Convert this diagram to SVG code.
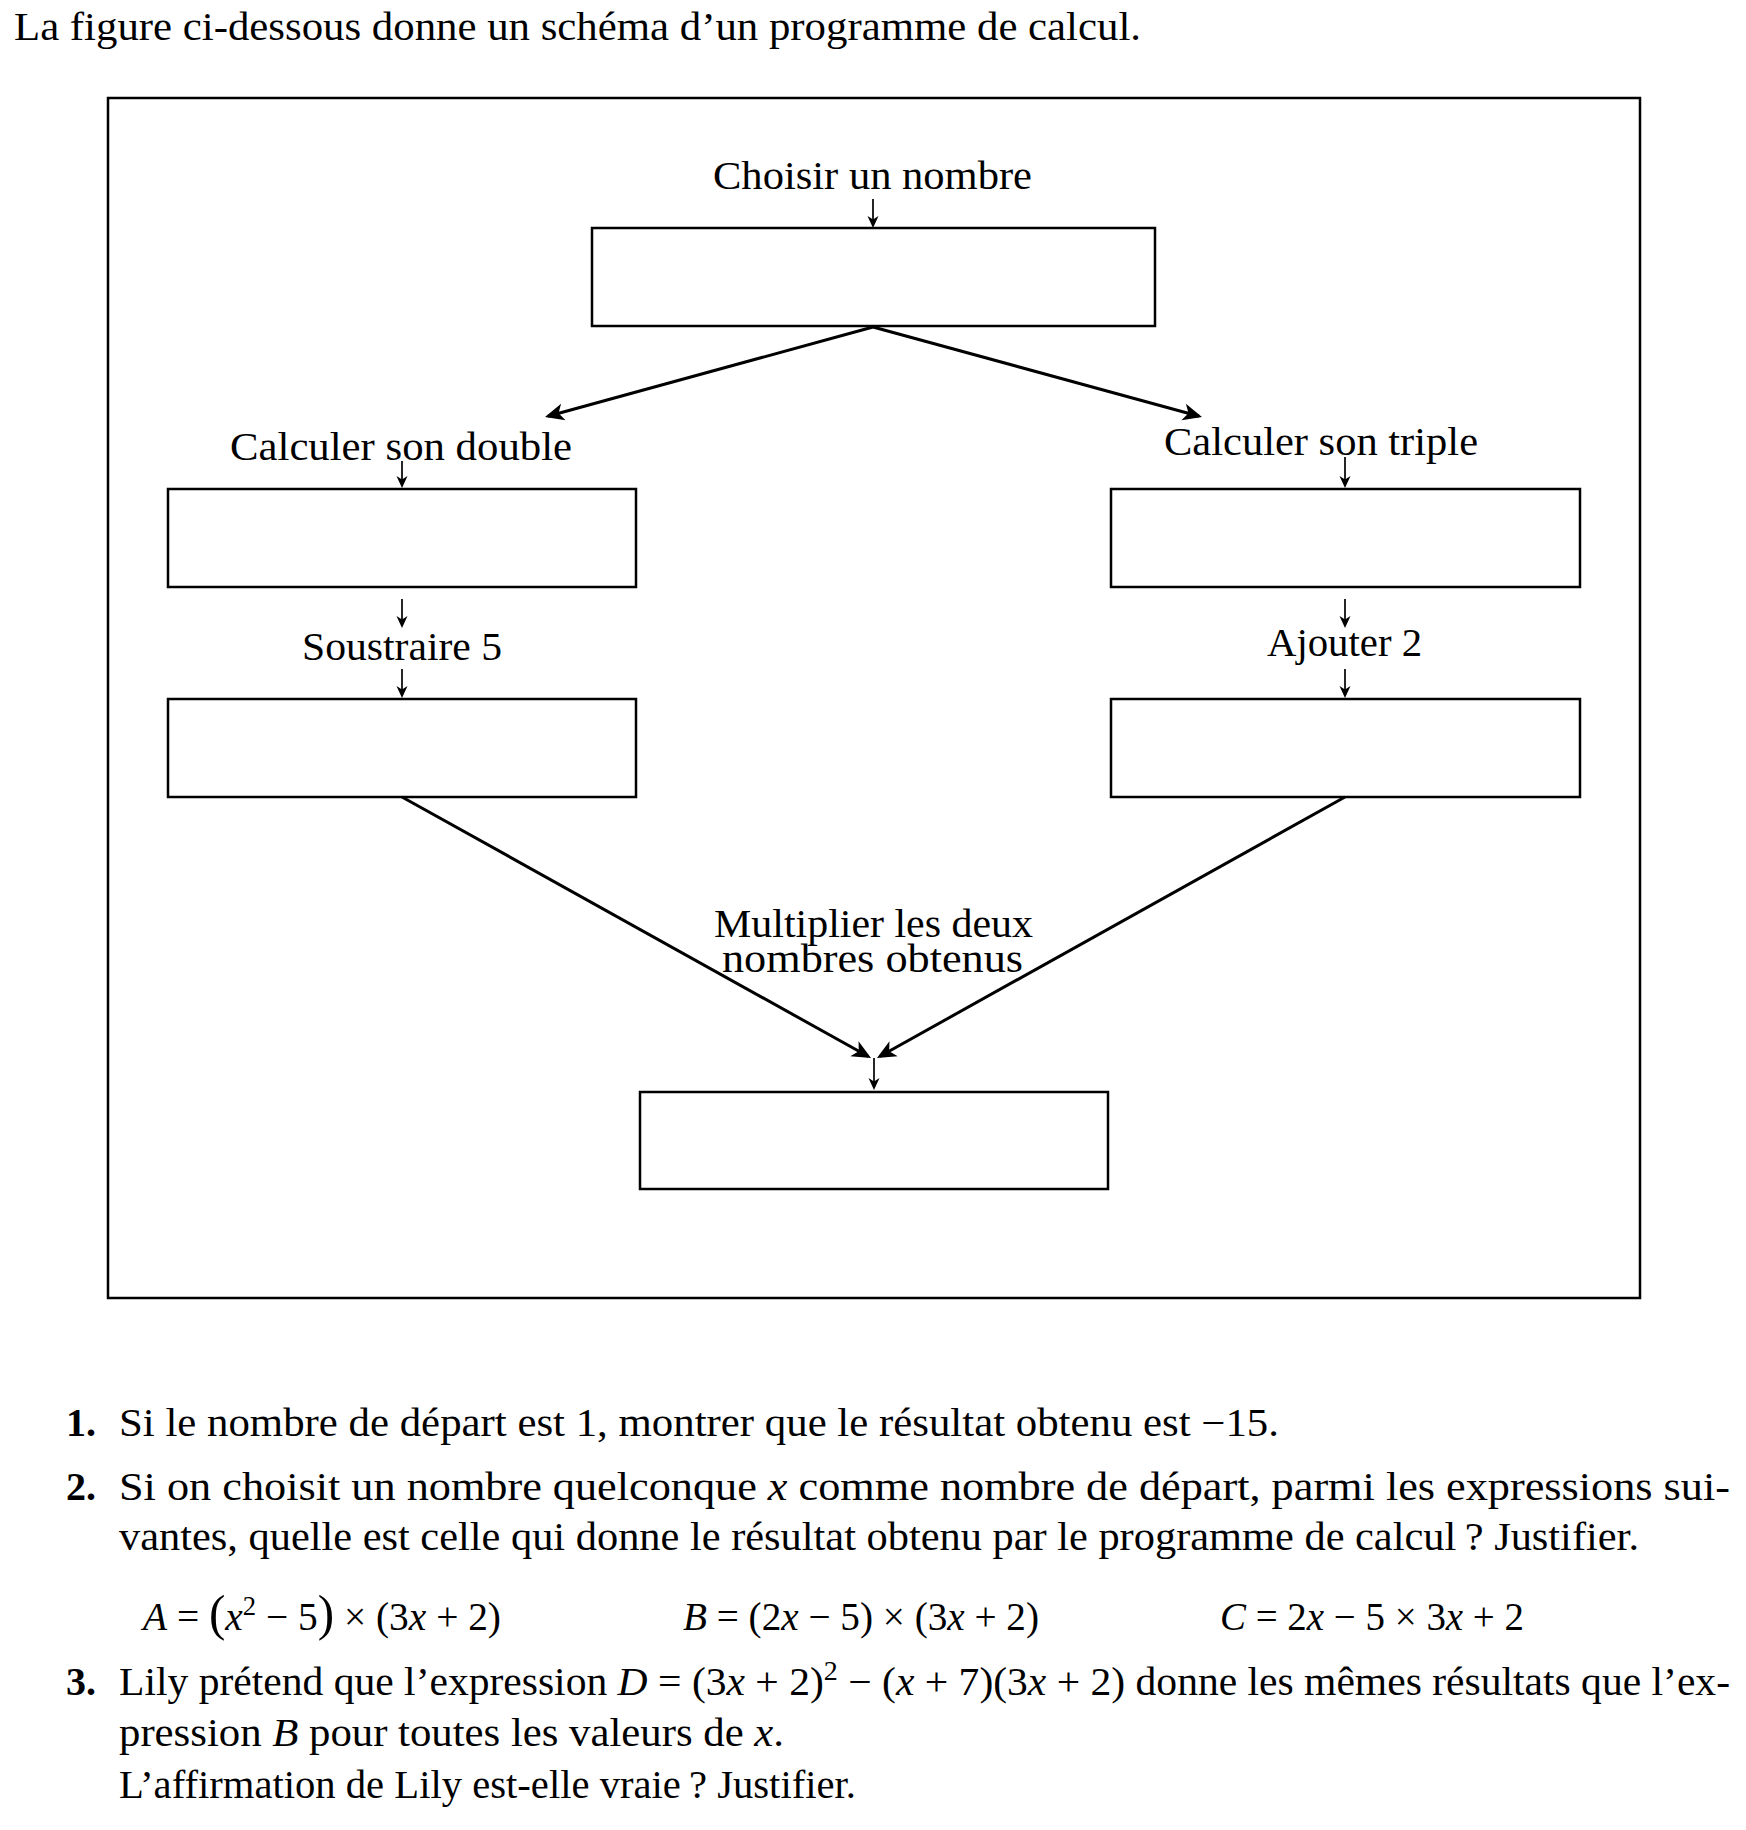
<svg xmlns="http://www.w3.org/2000/svg" width="1746" height="1830" viewBox="0 0 1746 1830">
<style>
text{font-family:"Liberation Serif","Times New Roman",serif;font-size:40px;fill:#000}
.b{font-weight:bold}
.i{font-style:italic}
.box{fill:#fff;stroke:#000;stroke-width:2.5}
.thin{fill:none;stroke:#000;stroke-width:1.7;marker-end:url(#ah)}
.thick{fill:none;stroke:#000;stroke-width:3;marker-end:url(#AH)}
</style>
<defs>
<marker id="ah" viewBox="-14 -7 16 14" refX="-2" refY="0" markerWidth="16" markerHeight="14" markerUnits="userSpaceOnUse" orient="auto"><path d="M0,0 L-12,-5.5 L-8.5,0 L-12,5.5 Z" fill="#000"/></marker>
<marker id="AH" viewBox="-22 -11 26 22" refX="-3" refY="0" markerWidth="26" markerHeight="22" markerUnits="userSpaceOnUse" orient="auto"><path d="M0,0 L-19,-8.5 L-14,0 L-19,8.5 Z" fill="#000"/></marker>
</defs>
<rect width="1746" height="1830" fill="#fff"/>
<text x="14" y="40" textLength="1127" lengthAdjust="spacingAndGlyphs">La figure ci-dessous donne un schéma d’un programme de calcul.</text>
<rect id="frame" x="108" y="98" width="1532" height="1200" fill="none" stroke="#000" stroke-width="2.5"/>
<g id="start"><rect class="box" x="592" y="228" width="563" height="98"/><text x="713" y="189" textLength="319" lengthAdjust="spacingAndGlyphs">Choisir un nombre</text></g>
<g id="double"><rect class="box" x="168" y="489" width="468" height="98"/><text x="230" y="460" textLength="342" lengthAdjust="spacingAndGlyphs">Calculer son double</text></g>
<g id="triple"><rect class="box" x="1111" y="489" width="469" height="98"/><text x="1164" y="455" textLength="314" lengthAdjust="spacingAndGlyphs">Calculer son triple</text></g>
<g id="sub5"><rect class="box" x="168" y="699" width="468" height="98"/><text x="302" y="660" textLength="200" lengthAdjust="spacingAndGlyphs">Soustraire 5</text></g>
<g id="add2"><rect class="box" x="1111" y="699" width="469" height="98"/><text x="1267" y="656" textLength="155" lengthAdjust="spacingAndGlyphs">Ajouter 2</text></g>
<g id="product"><rect class="box" x="640" y="1092" width="468" height="97"/><text x="714" y="937" textLength="319" lengthAdjust="spacingAndGlyphs">Multiplier les deux</text><text x="722" y="972" textLength="301" lengthAdjust="spacingAndGlyphs">nombres obtenus</text></g>
<g id="connectors">
<path class="thin" d="M873,199 V226"/>
<path class="thick" d="M873,327 L547.9,416.2"/>
<path class="thick" d="M873,327 L1199.1,416.2"/>
<path class="thin" d="M402,461 V486"/>
<path class="thin" d="M1345,457 V486"/>
<path class="thin" d="M402,599 V626"/>
<path class="thin" d="M402,669 V696"/>
<path class="thin" d="M1345,599 V626"/>
<path class="thin" d="M1345,669 V696"/>
<path class="thick" d="M402,797 L868.4,1056.5"/>
<path class="thick" d="M1345,797 L879.6,1056.5"/>
<path class="thin" d="M874,1058 V1088"/>
</g>
<g id="questions">
<text class="b" x="66" y="1436">1.</text>
<text x="119" y="1436" textLength="1160" lengthAdjust="spacingAndGlyphs">Si le nombre de départ est 1, montrer que le résultat obtenu est −15.</text>
<text class="b" x="66" y="1500">2.</text>
<text x="119" y="1500" textLength="1611" lengthAdjust="spacingAndGlyphs">Si on choisit un nombre quelconque <tspan class="i">x</tspan> comme nombre de départ, parmi les expressions sui-</text>
<text x="119" y="1550" textLength="1520" lengthAdjust="spacingAndGlyphs">vantes, quelle est celle qui donne le résultat obtenu par le programme de calcul&#x2009;? Justifier.</text>
<text x="143" y="1630" textLength="358" lengthAdjust="spacingAndGlyphs"><tspan class="i">A</tspan> = <tspan font-size="50">(</tspan><tspan class="i">x</tspan><tspan font-size="27" dy="-15">2</tspan><tspan dy="15"> − 5</tspan><tspan font-size="50">)</tspan> × (3<tspan class="i">x</tspan> + 2)</text>
<text x="683" y="1630" textLength="356" lengthAdjust="spacingAndGlyphs"><tspan class="i">B</tspan> = (2<tspan class="i">x</tspan> − 5) × (3<tspan class="i">x</tspan> + 2)</text>
<text x="1220" y="1630" textLength="304" lengthAdjust="spacingAndGlyphs"><tspan class="i">C</tspan> = 2<tspan class="i">x</tspan> − 5 × 3<tspan class="i">x</tspan> + 2</text>
<text class="b" x="66" y="1695">3.</text>
<text x="119" y="1695" textLength="1611" lengthAdjust="spacingAndGlyphs">Lily prétend que l’expression <tspan class="i">D</tspan> = (3<tspan class="i">x</tspan> + 2)<tspan font-size="27" dy="-15">2</tspan><tspan dy="15"> − (</tspan><tspan class="i">x</tspan> + 7)(3<tspan class="i">x</tspan> + 2) donne les mêmes résultats que l’ex-</text>
<text x="119" y="1746" textLength="665" lengthAdjust="spacingAndGlyphs">pression <tspan class="i">B</tspan> pour toutes les valeurs de <tspan class="i">x</tspan>.</text>
<text x="119" y="1798" textLength="737" lengthAdjust="spacingAndGlyphs">L’affirmation de Lily est-elle vraie&#x2009;? Justifier.</text>
</g>
</svg>
